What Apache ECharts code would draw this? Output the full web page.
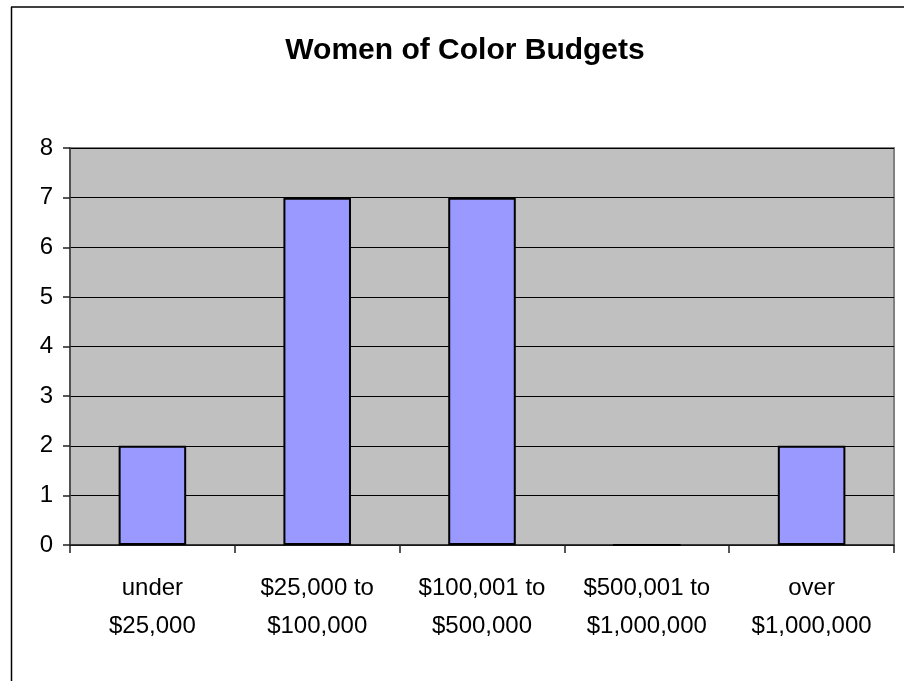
<!DOCTYPE html>
<html>
<head>
<meta charset="utf-8">
<script src="https://cdn.jsdelivr.net/npm/echarts@6/dist/echarts.min.js"></script>
<style>
html,body{margin:0;padding:0;background:#fff;}
#chart{width:904px;height:681px;}
</style>
</head>
<body>
<div id="chart"></div>
<script>
const categories = ["under\n$25,000", "$25,000 to\n$100,000", "$100,001 to\n$500,000", "$500,001 to\n$1,000,000", "over\n$1,000,000"];
const counts = [2, 7, 7, 0, 2];
const yTicks = { min: 0, max: 8, interval: 1 };
const titleText = "Women of Color Budgets";

const chart = echarts.init(document.getElementById('chart'), null, { renderer: 'canvas' });
chart.setOption({
  backgroundColor: '#ffffff',
  animation: false,
  title: {
    text: titleText,
    left: 460,
    textAlign: 'center',
    top: 31,
    textStyle: { fontFamily: 'Liberation Sans, Arial, sans-serif', fontWeight: 'bold', fontSize: 30, color: '#000' }
  },
  graphic: [
    { type: 'line', shape: { x1: 11.5, y1: 7, x2: 11.5, y2: 681 }, style: { stroke: '#000', lineWidth: 1.5 } },
    { type: 'line', shape: { x1: 11, y1: 7, x2: 904, y2: 7 }, style: { stroke: '#000', lineWidth: 1.5 } }
  ],
  grid: {
    left: 70, right: 10, top: 148, bottom: 136,
    show: true, backgroundColor: '#C0C0C0', borderColor: '#808080', borderWidth: 2
  },
  xAxis: {
    type: 'category',
    data: categories,
    axisLine: { show: true, lineStyle: { color: '#202020', width: 1.5 } },
    axisTick: { show: true, alignWithLabel: false, length: 8, lineStyle: { color: '#202020', width: 1.5 } },
    axisLabel: {
      interval: 0, margin: 24, color: '#000',
      fontFamily: 'Liberation Sans, Arial, sans-serif', fontSize: 24, lineHeight: 38
    }
  },
  yAxis: {
    type: 'value',
    min: yTicks.min, max: yTicks.max, interval: yTicks.interval,
    axisLine: { show: true, lineStyle: { color: '#404040', width: 1.5 } },
    axisTick: { show: true, length: 7, lineStyle: { color: '#202020', width: 1.5 } },
    axisLabel: { margin: 17, color: '#000', fontFamily: 'Liberation Sans, Arial, sans-serif', fontSize: 24 },
    splitLine: { show: true, lineStyle: { color: '#000', width: 1 } }
  },
  series: [{
    type: 'bar',
    data: counts,
    barWidth: '41%',
    itemStyle: { color: '#9999FF', borderColor: '#000', borderWidth: 2 }
  }]
});
</script>
</body>
</html>
